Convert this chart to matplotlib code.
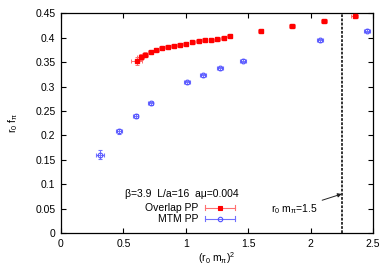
import matplotlib
matplotlib.use("Agg")
import matplotlib.pyplot as plt
import numpy as np

plt.rcParams['font.family'] = ['Liberation Sans', 'DejaVu Sans']
plt.rcParams['mathtext.default'] = 'regular'
plt.rcParams['mathtext.fontset'] = 'custom'
plt.rcParams['mathtext.rm'] = 'Liberation Sans'
plt.rcParams['mathtext.it'] = 'Liberation Sans'

# Overlap PP data
ov_x = [0.607, 0.639, 0.675, 0.719, 0.764, 0.809, 0.857, 0.905, 0.951, 0.999,
        1.050, 1.103, 1.151, 1.202, 1.252, 1.304, 1.354, 1.600, 1.853, 2.105, 2.353]
ov_y = [0.353, 0.360, 0.365, 0.370, 0.374, 0.378, 0.380, 0.383, 0.386, 0.388,
        0.391, 0.393, 0.395, 0.396, 0.397, 0.400, 0.403, 0.413, 0.424, 0.434, 0.445]
ov_xerr = [0.045, 0.03, 0.025, 0.022, 0.02, 0.02, 0.02, 0.02, 0.02, 0.02,
           0.02, 0.02, 0.02, 0.02, 0.02, 0.02, 0.02, 0.022, 0.025, 0.025, 0.028]
ov_yerr = [0.008, 0.006, 0.005, 0.004, 0.004, 0.003, 0.003, 0.003, 0.003, 0.003,
           0.003, 0.003, 0.003, 0.003, 0.003, 0.003, 0.003, 0.003, 0.003, 0.003, 0.003]

# MTM PP data
mtm_x = [0.315, 0.462, 0.598, 0.719, 1.012, 1.140, 1.274, 1.456, 2.075, 2.450]
mtm_y = [0.160, 0.208, 0.240, 0.266, 0.309, 0.323, 0.337, 0.353, 0.395, 0.414]
mtm_xerr = [0.032, 0.025, 0.022, 0.022, 0.025, 0.025, 0.025, 0.025, 0.025, 0.025]
mtm_yerr = [0.009, 0.005, 0.004, 0.003, 0.003, 0.003, 0.003, 0.003, 0.003, 0.003]

xticks = [0, 0.5, 1, 1.5, 2, 2.5]
yticks = [0, 0.05, 0.1, 0.15, 0.2, 0.25, 0.3, 0.35, 0.4, 0.45]
cut_x = 2.25

fig = plt.figure(figsize=(3.92, 2.74), dpi=100)
ax = fig.add_axes([61/392, 1-233/274, 312/392, (233-13.3)/274])

red = '#ff0000'
red_eb = '#ff7070'
blue = '#5050ff'
blue_eb = '#7070ff'

ax.errorbar(ov_x, ov_y, xerr=ov_xerr, yerr=ov_yerr, fmt='s', color=red, ms=3.2,
            ecolor=red_eb, elinewidth=0.7, capsize=1.2, capthick=0.7, zorder=3)
ax.errorbar(mtm_x, mtm_y, xerr=mtm_xerr, yerr=mtm_yerr, fmt='o', mfc='none', mec=blue,
            ms=3.4, mew=0.8, ecolor=blue_eb, elinewidth=0.7, capsize=1.2, capthick=0.7, zorder=3)

ax.axvline(cut_x, color='#222222', lw=1.3, ls=(0, (1.5, 0.8)))
ax.annotate('r$_0$ m$_π$=1.5', xy=(cut_x, 0.08), xytext=(2.06, 0.049),
            ha='right', va='center', fontsize=7.5,
            arrowprops=dict(arrowstyle='-|>', color='#222222', lw=0.7,
                            mutation_scale=6, shrinkA=1, shrinkB=0))

ax.set_xlim(0, 2.5)
ax.set_ylim(0, 0.45)
ax.set_xticks(xticks)
ax.set_xticklabels(['0', '0.5', '1', '1.5', '2', '2.5'])
ax.set_yticks(yticks)
ax.set_yticklabels(['0', '0.05', '0.1', '0.15', '0.2', '0.25', '0.3', '0.35', '0.4', '0.45'])
ax.tick_params(direction='in', top=True, right=True, length=3.5, width=0.8,
               labelsize=7.5, pad=4)
for s in ax.spines.values():
    s.set_linewidth(0.9)

ax.set_xlabel('(r$_0$ m$_π$)$^2$', fontsize=7.5, labelpad=1)
ax.set_ylabel('r$_0$ f$_π$', fontsize=7.5, labelpad=11)

# legend block
ax.text(0.388, 0.176, 'β=3.9  L/a=16  aμ=0.004', transform=ax.transAxes,
        ha='center', va='center', fontsize=7.5)
ax.text(0.439, 0.115, 'Overlap PP', transform=ax.transAxes, ha='right', va='center', fontsize=7.5)
ax.text(0.439, 0.065, 'MTM PP', transform=ax.transAxes, ha='right', va='center', fontsize=7.5)
for yy, c, ec, mk, mfc in [(0.115, red, red_eb, 's', red), (0.065, blue, blue_eb, 'o', 'none')]:
    ax.plot([0.4615, 0.5577], [yy, yy], color=ec, lw=0.8, transform=ax.transAxes)
    ax.plot([0.4615, 0.4615], [yy-0.012, yy+0.012], color=ec, lw=0.8, transform=ax.transAxes)
    ax.plot([0.5577, 0.5577], [yy-0.012, yy+0.012], color=ec, lw=0.8, transform=ax.transAxes)
    ax.plot([0.5096], [yy], marker=mk, color=c, mfc=mfc, mec=c, ms=3.2, mew=0.8,
            transform=ax.transAxes, ls='none')

fig.savefig('out.png', dpi=100)
